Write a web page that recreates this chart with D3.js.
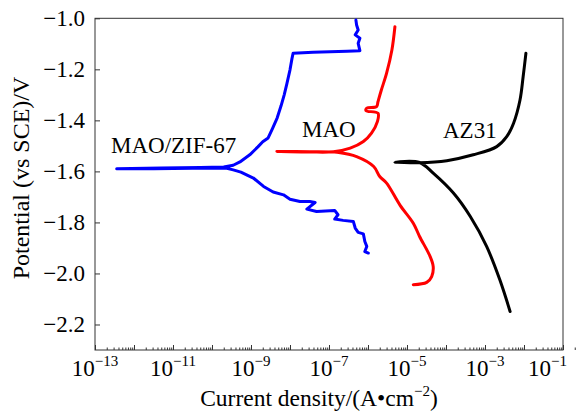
<!DOCTYPE html>
<html>
<head>
<meta charset="utf-8">
<script src="https://cdn.jsdelivr.net/npm/d3@7"></script>
<style>
  body { margin: 0; background: #fff; }
</style>
</head>
<body>
<svg width="580" height="414"></svg>
<script>
// polarization curves: [current density (A/cm2), potential (V vs SCE)]
// each one runs from the cathodic end, out to the spike at Ecorr, then up the anodic branch
var zif67 = [
  [1.02e-6, -1.920], [8.3e-7, -1.914], [9.3e-7, -1.894], [8.3e-7, -1.875], [7.6e-7, -1.845],
  [5.6e-7, -1.839], [4.7e-7, -1.822], [4.2e-7, -1.796], [2.3e-7, -1.792], [1.4e-7, -1.787],
  [1.7e-7, -1.770], [1.4e-7, -1.753], [4.8e-8, -1.757], [2.7e-8, -1.748], [4.4e-8, -1.722],
  [3.2e-8, -1.718], [1.8e-8, -1.718], [1.0e-8, -1.709], [6.8e-9, -1.692], [3.7e-9, -1.681],
  [2.1e-9, -1.659], [1.15e-9, -1.626], [5.5e-10, -1.603], [3.5e-10, -1.594], [2.4e-10, -1.588],
  [3.2e-11, -1.588], [3.2e-12, -1.590], [3.6e-13, -1.590], [5.0e-12, -1.587], [5.0e-11, -1.585],
  [2.0e-10, -1.583], [3.5e-10, -1.576], [5.2e-10, -1.563], [9.3e-10, -1.535], [1.5e-9, -1.504],
  [2.0e-9, -1.484], [2.75e-9, -1.469], [3.6e-9, -1.430], [4.7e-9, -1.390], [5.9e-9, -1.343],
  [7.1e-9, -1.300], [8.3e-9, -1.257], [1.0e-8, -1.202], [1.12e-8, -1.159], [1.2e-8, -1.137],
  [3.9e-8, -1.133], [2.9e-7, -1.129], [6.2e-7, -1.127], [5.6e-7, -1.098], [6.2e-7, -1.078],
  [4.7e-7, -1.065], [5.6e-7, -1.046], [5.1e-7, -1.026], [4.9e-7, -1.007]
];
var mao = [
  [1.45e-5, -2.044], [3.2e-5, -2.035], [4.3e-5, -2.012], [4.7e-5, -1.973], [3.9e-5, -1.933],
  [2.1e-5, -1.855], [1.45e-5, -1.803], [6.6e-6, -1.732], [3.0e-6, -1.646], [2.0e-6, -1.620],
  [1.4e-6, -1.581], [5.1e-7, -1.542], [1.6e-7, -1.525], [1.3e-7, -1.524],
  [3.2e-8, -1.523], [4.6e-9, -1.522], [3.2e-8, -1.524], [1.3e-7, -1.523],
  [3.5e-7, -1.509], [7.6e-7, -1.483], [1.23e-6, -1.450], [1.74e-6, -1.405], [1.8e-6, -1.372],
  [8.9e-7, -1.362], [9.3e-7, -1.352], [1.66e-6, -1.346], [1.8e-6, -1.327], [2.2e-6, -1.281],
  [3.0e-6, -1.215], [4.1e-6, -1.124], [4.9e-6, -1.033]
];
var az31 = [
  [4.4e-3, -2.149], [2.4e-3, -2.025], [1.1e-3, -1.894], [4.2e-4, -1.777], [1.55e-4, -1.685],
  [4.7e-5, -1.607], [2.1e-5, -1.565], [4.9e-6, -1.564], [2.1e-5, -1.566],
  [1.05e-4, -1.558], [5.0e-4, -1.535], [2.0e-3, -1.503], [3.6e-3, -1.464], [5.4e-3, -1.411],
  [7.9e-3, -1.320], [9.5e-3, -1.229], [1.12e-2, -1.137]
];

var seriesNames = ["MAO/ZIF-67", "MAO", "AZ31"];
var seriesColors = ["#0000ff", "#ff0000", "#000000"];
var yTicks = [-2.2, -2.0, -1.8, -1.6, -1.4, -1.2, -1.0];
var xLabelExps = [-13, -11, -9, -7, -5, -3, -1];

var serif = "'Liberation Serif'";

var svg = d3.select("svg");
var plotL = 95, plotR = 563, plotT = 18.3, plotB = 350;

var x = d3.scaleLog().domain([1e-13, 1e-1]).range([plotL, plotR]);
var y = d3.scaleLinear().domain([-2.3, -1.0]).range([plotB, plotT]);

// y axis, ticks pointing inward
svg.append("g")
  .attr("transform", "translate(" + plotL + ",0)")
  .call(d3.axisLeft(y).tickValues(yTicks).tickFormat(d3.format(".1f"))
    .tickSizeInner(-5).tickSizeOuter(0).tickPadding(10))
  .call(function(g) {
    g.attr("font-family", null).attr("font-size", null);
    g.select(".domain").remove();
    g.selectAll("line").attr("stroke", "#333");
    g.selectAll("text").attr("fill", "#000")
      .attr("font-family", serif).attr("font-size", 23);
  });

// x axis: decades as major ticks, 2..9 as minor ones
var decades = d3.range(-13, 0).map(function(e) { return Math.pow(10, e); }).concat([1e-1]);
var minors = [];
decades.slice(0, -1).forEach(function(d) {
  for (var k = 2; k < 10; k++) minors.push(d * k);
});

svg.append("g")
  .attr("transform", "translate(0," + plotB + ")")
  .call(d3.axisBottom(x).tickValues(decades).tickFormat("").tickSizeInner(-5).tickSizeOuter(0))
  .call(function(g) { g.select(".domain").remove(); g.selectAll("line").attr("stroke", "#333"); });

svg.append("g")
  .attr("transform", "translate(0," + plotB + ")")
  .call(d3.axisBottom(x).tickValues(minors).tickFormat("").tickSizeInner(-2.5).tickSizeOuter(0))
  .call(function(g) { g.select(".domain").remove(); g.selectAll("line").attr("stroke", "#333"); });

var xl = svg.append("g")
  .selectAll("text").data(xLabelExps).enter().append("text")
  .attr("font-family", serif).attr("font-size", 23)
  .attr("x", function(e) { return e === -1 ? 567 : x(Math.pow(10, e)); })
  .attr("y", 376)
  .attr("text-anchor", function(e) { return e === -1 ? "end" : "middle"; });
xl.append("tspan").text("10");
xl.append("tspan").attr("dy", -10).attr("font-size", 15)
  .text(function(e) { return "\u2212" + Math.abs(e); });

// frame
svg.append("rect")
  .attr("x", plotL).attr("y", plotT)
  .attr("width", plotR - plotL).attr("height", plotB - plotT)
  .attr("fill", "none").attr("stroke", "#333").attr("stroke-width", 1);

// curves
var line = d3.line()
  .x(function(d) { return x(d[0]); })
  .y(function(d) { return y(d[1]); });

[zif67, mao, az31].forEach(function(data, i) {
  svg.append("path")
    .datum(data)
    .attr("fill", "none")
    .attr("stroke", seriesColors[i])
    .attr("stroke-width", 3)
    .attr("stroke-linejoin", "round")
    .attr("stroke-linecap", "round")
    .attr("d", line.curve(i === 0 ? d3.curveLinear : d3.curveCatmullRom.alpha(0.5)));
});

// curve labels
var labelPos = [[111, 153], [302, 136.7], [443, 138.3]];
seriesNames.forEach(function(n, i) {
  svg.append("text")
    .attr("font-family", serif).attr("font-size", 23)
    .attr("x", labelPos[i][0]).attr("y", labelPos[i][1])
    .text(n);
});

// axis titles
var xt = svg.append("text")
  .attr("font-family", serif).attr("font-size", 23.5)
  .attr("x", 319).attr("y", 406)
  .attr("text-anchor", "middle");
xt.append("tspan").text("Current density/(A\u2022cm");
xt.append("tspan").attr("dy", -10).attr("font-size", 15).text("\u22122");
xt.append("tspan").attr("dy", 10).text(")");

svg.append("text")
  .attr("font-family", serif).attr("font-size", 24)
  .attr("transform", "translate(29,178) rotate(-90)")
  .attr("text-anchor", "middle")
  .text("Potential (vs SCE)/V");
</script>
</body>
</html>
